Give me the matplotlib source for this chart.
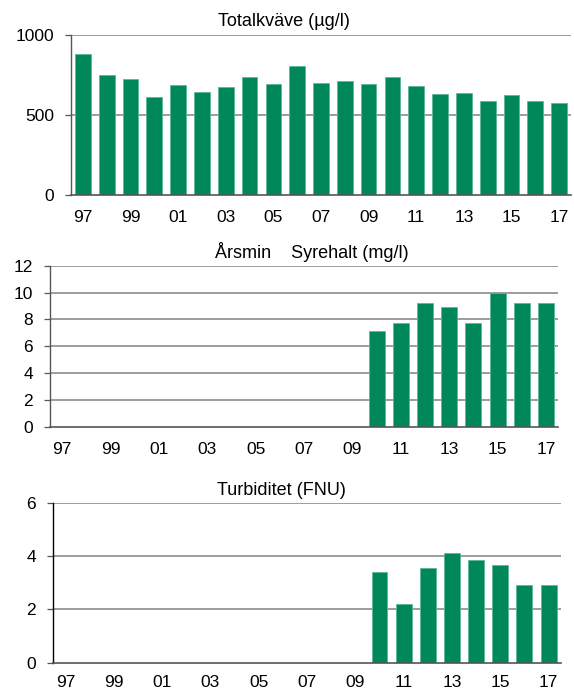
import numpy as np
import matplotlib
matplotlib.use("Agg")
import matplotlib.pyplot as plt

plt.rcParams['font.family'] = ['Liberation Sans', 'DejaVu Sans']

years = list(range(1997, 2018))
year_labels = [f"{y % 100:02d}" for y in years]

totalkvave = [878, 747, 722, 611, 685, 644, 675, 733, 689, 807, 698, 710,
              689, 733, 679, 631, 636, 588, 621, 588, 575]

nan = np.nan
syrehalt = [nan] * 13 + [7.1, 7.7, 9.2, 8.9, 7.7, 10.0, 9.25, 9.2]

turbiditet = [nan] * 13 + [3.39, 2.22, 3.57, 4.10, 3.87, 3.68, 2.93, 2.91]

BAR = '#00875a'
EDGE = '#5db893'
GRID = '#8c8c8c'
SPINE = '#555555'

W, H = 574, 691
fig = plt.figure(figsize=(W / 100, H / 100), dpi=100)


def px_axes(left, right, top, bottom):
    return fig.add_axes([left / W, 1 - bottom / H, (right - left) / W, (bottom - top) / H])


panels = [
    dict(box=(71, 571, 34.7, 194.7), data=totalkvave, ylim=(0, 1000),
         yticks=[0, 500, 1000], title="Totalkväve (µg/l)", tx=284, ty=26,
         xpad=11, spine='#555555'),
    dict(box=(50, 558, 265.7, 426.7), data=syrehalt, ylim=(0, 12),
         yticks=[0, 2, 4, 6, 8, 10, 12], title="Årsmin    Syrehalt (mg/l)",
         tx=312, ty=258.5, xpad=11, spine='#555555'),
    dict(box=(53.3, 560.7, 502.7, 662.7), data=turbiditet, ylim=(0, 6),
         yticks=[0, 2, 4, 6], title="Turbiditet (FNU)", tx=281, ty=495,
         xpad=8.5, spine='#000000'),
]

x = np.arange(len(years))
for p in panels:
    ax = px_axes(*p['box'])
    vals = np.array(p['data'], dtype=float)
    ax.bar(x, np.nan_to_num(vals), width=0.66, color=BAR, edgecolor=EDGE,
           linewidth=0.6, zorder=3)
    ax.set_xlim(-0.5, len(years) - 0.5)
    ax.set_ylim(*p['ylim'])
    ax.set_yticks(p['yticks'])
    ax.set_xticks(x[::2])
    ax.set_xticklabels(year_labels[::2])
    for t in p['yticks'][1:]:
        ax.axhline(t, color=GRID, linewidth=1.2, zorder=1)
    for s in ['top', 'right']:
        ax.spines[s].set_visible(False)
    ax.spines['left'].set_color(p['spine'])
    ax.spines['left'].set_linewidth(1.0)
    ax.spines['bottom'].set_color(SPINE)
    ax.spines['bottom'].set_linewidth(1.2)
    ax.spines['bottom'].set_zorder(4)
    ax.tick_params(axis='y', direction='out', length=4.3, width=0.9,
                   color=SPINE, pad=8, labelsize=12.5)
    ax.tick_params(axis='x', length=0, pad=p['xpad'], labelsize=12.5)
    ax.set_facecolor('white')
    fig.text(p['tx'] / W, 1 - p['ty'] / H, p['title'], ha='center',
             va='baseline', fontsize=13)

fig.savefig('out.png', dpi=100)
